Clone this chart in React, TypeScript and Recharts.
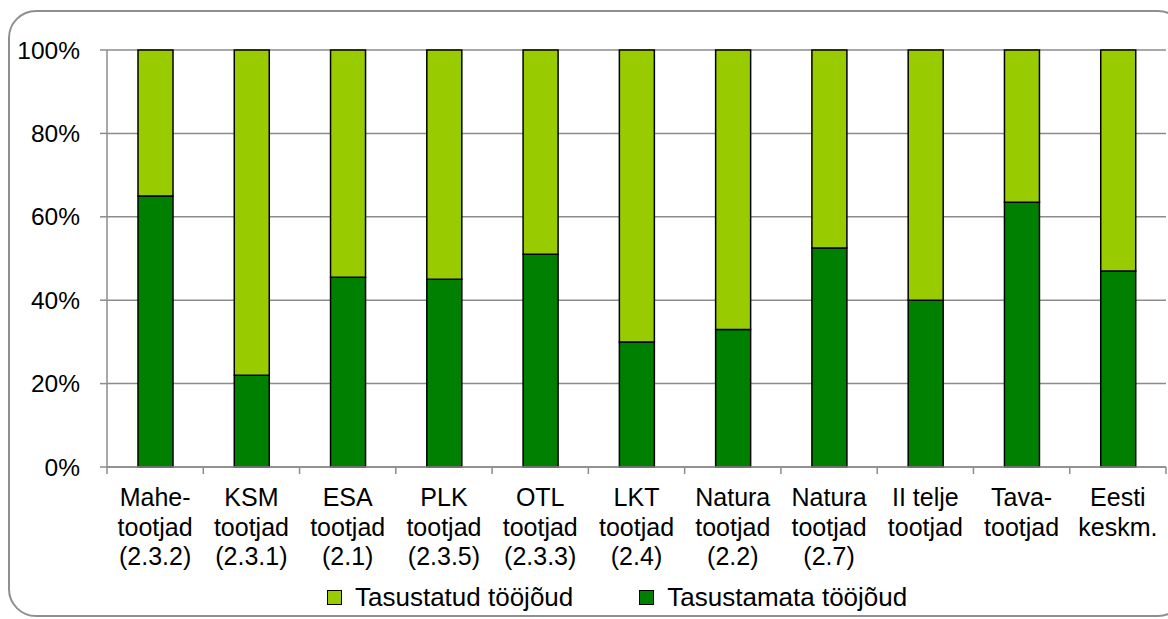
import { BarChart, Bar, XAxis, YAxis, CartesianGrid } from "recharts";

const categories = [
  "Mahe-\ntootjad\n(2.3.2)",
  "KSM\ntootjad\n(2.3.1)",
  "ESA\ntootjad\n(2.1)",
  "PLK\ntootjad\n(2.3.5)",
  "OTL\ntootjad\n(2.3.3)",
  "LKT\ntootjad\n(2.4)",
  "Natura\ntootjad\n(2.2)",
  "Natura\ntootjad\n(2.7)",
  "II telje\ntootjad",
  "Tava-\ntootjad",
  "Eesti\nkeskm.",
];

// tasustamata (bottom, dark) and tasustatud (top, light) shares in %
const tasustamata = [65, 22, 45.5, 45, 51, 30, 33, 52.5, 40, 63.5, 47];
const tasustatud = [35, 78, 54.5, 55, 49, 70, 67, 47.5, 60, 36.5, 53];

const yTicks = [0, 20, 40, 60, 80, 100];

const seriesNames = {
  tasustatud: "Tasustatud tööjõud",
  tasustamata: "Tasustamata tööjõud",
};

const DARK = "#008000";
const LIGHT = "#99CC00";
const GRID = "#8c8c8c";
const FONT = "Arial, 'Liberation Sans', sans-serif";

const W = 1168;
const H = 619;
const X_AXIS_H = 152;
const M = { top: 50, right: 2, bottom: 0, left: 0 };
const Y_AXIS_W = 107;
const AXIS_Y = H - X_AXIS_H;
const PLOT_W = W - M.left - M.right - Y_AXIS_W;

const data = categories.map((name, i) => ({
  name,
  tasustamata: tasustamata[i],
  tasustatud: tasustatud[i],
}));

function CategoryTick(props: any) {
  const { x, index, payload } = props;
  const lines: string[] = String(payload.value).split("\n");
  const half = PLOT_W / categories.length / 2;
  return (
    <g>
      <line x1={x - half} x2={x - half} y1={AXIS_Y} y2={AXIS_Y + 7} stroke={GRID} strokeWidth={1.5} />
      {index === categories.length - 1 && (
        <line x1={x + half} x2={x + half} y1={AXIS_Y} y2={AXIS_Y + 7} stroke={GRID} strokeWidth={1.5} />
      )}
      <text textAnchor="middle" fontSize={25} fill="#000" fontFamily={FONT}>
        {lines.map((l, i) => (
          <tspan key={i} x={x} y={AXIS_Y + 39 + i * 29.5}>
            {l}
          </tspan>
        ))}
      </text>
    </g>
  );
}

function LegendBox() {
  const items = [
    { key: "tasustatud", color: LIGHT },
    { key: "tasustamata", color: DARK },
  ];
  return (
    <div
      style={{
        position: "absolute",
        top: 582,
        left: 0,
        width: W,
        display: "flex",
        alignItems: "center",
        paddingLeft: 327,
        boxSizing: "border-box",
        fontFamily: FONT,
        fontSize: 26,
        color: "#000",
      }}
    >
      {items.map((it, i) => (
        <div key={it.key} style={{ display: "flex", alignItems: "center", marginRight: i === 0 ? 66 : 0 }}>
          <span
            style={{
              width: 15,
              height: 15,
              boxSizing: "border-box",
              background: it.color,
              border: "1.5px solid #000",
              marginRight: 13,
              display: "inline-block",
            }}
          />
          <span style={{ lineHeight: "30px" }}>{seriesNames[it.key as keyof typeof seriesNames]}</span>
        </div>
      ))}
    </div>
  );
}

export default function App() {
  return (
    <div style={{ position: "fixed", left: 0, top: 0, width: W, height: H, overflow: "hidden", background: "#fff" }}>
      <div
        style={{
          position: "absolute",
          left: 8,
          top: 10,
          width: 1178,
          height: 607,
          border: "2px solid #8f8f8f",
          borderRadius: 28,
          boxSizing: "border-box",
        }}
      />
      <div style={{ position: "absolute", left: 0, top: 0 }}>
        <BarChart width={W} height={H} data={data} margin={M} barSize={35}>
          <CartesianGrid vertical={false} stroke={GRID} strokeWidth={1.5} />
          <XAxis
            dataKey="name"
            interval={0}
            axisLine={{ stroke: GRID, strokeWidth: 1.5 }}
            tickLine={false}
            tick={<CategoryTick />}
            height={X_AXIS_H}
          />
          <YAxis
            domain={[0, 100]}
            ticks={yTicks}
            tickFormatter={(v) => `${v}%`}
            width={Y_AXIS_W}
            axisLine={{ stroke: GRID, strokeWidth: 1.5 }}
            tickLine={{ stroke: GRID, strokeWidth: 1.5 }}
            tickSize={7}
            tickMargin={20}
            tick={{ fill: "#000", fontSize: 24.5, fontFamily: FONT }}
          />
          <Bar dataKey="tasustamata" stackId="a" fill={DARK} stroke="#000" strokeWidth={1.5} isAnimationActive={false} />
          <Bar dataKey="tasustatud" stackId="a" fill={LIGHT} stroke="#000" strokeWidth={1.5} isAnimationActive={false} />
        </BarChart>
      </div>
      <LegendBox />
    </div>
  );
}
